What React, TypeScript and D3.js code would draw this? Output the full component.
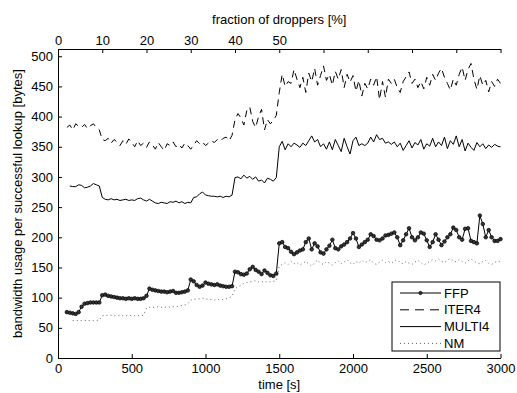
import { useEffect, useRef } from "react";
import * as d3 from "d3";

// sample times [s], every 20 s from 60 to 3000
const times = d3.range(60, 3001, 20);

const ffp = [
  76, 75, 74, 73, 76, 85, 90, 91, 92, 92,
  92, 92, 104, 105, 103, 102, 101, 100, 99, 99,
  98, 99, 98, 99, 98, 98, 99, 103, 115, 113,
  112, 111, 110, 110, 109, 110, 111, 108, 108, 109,
  110, 112, 130, 127, 121, 118, 120, 125, 123, 122,
  121, 122, 120, 119, 118, 118, 119, 143, 142, 139,
  138, 140, 147, 151, 146, 143, 139, 145, 141, 137,
  136, 140, 190, 192, 184, 182, 176, 172, 175, 178,
  180, 192, 198, 180, 190, 185, 175, 173, 180, 186,
  196, 182, 180, 185, 188, 192, 198, 207, 198, 184,
  188, 192, 196, 205, 202, 196, 195, 198, 203, 204,
  206, 208, 200, 187, 195, 205, 215, 200, 195, 200,
  208, 206, 195, 184, 192, 205, 196, 187, 193, 200,
  205, 216, 212, 200, 196, 214, 215, 194, 192, 190,
  236, 222, 200, 212, 200, 194, 194, 197,
];

const iter4 = [
  382, 386, 378, 388, 384, 382, 387, 380, 385, 388,
  382, 378, 362, 360, 364, 356, 362, 358, 352, 360,
  354, 363, 357, 350, 360, 352, 356, 349, 358, 353,
  346, 357, 350, 344, 355, 352, 358, 350, 354, 348,
  356, 352, 346, 353, 360, 355, 358, 352, 356, 360,
  357, 362, 359, 364, 366, 360, 369, 395, 405, 398,
  386, 410, 416, 392, 382, 400, 412, 378, 395, 388,
  394, 402, 440, 470, 450, 458, 455, 478, 462, 448,
  465, 440, 472, 458, 480, 452, 468, 484, 460, 470,
  452, 475, 462, 478, 448, 470, 457, 468, 442, 460,
  434, 455, 446, 462, 452, 466, 428, 458, 432, 462,
  455, 462, 448, 440, 458, 466, 474, 455, 462, 448,
  458, 446, 465, 452, 470, 460, 472, 480, 465, 455,
  444, 462, 452, 470, 482, 460, 478, 488, 462, 445,
  468, 452, 460, 441, 458, 450, 462, 455,
];

const multi4 = [
  null, 285, 284, 284, 287, 286, 282, 283, 285, 289,
  287, 285, 266, 263, 262, 264, 262, 263, 261, 262,
  263, 261, 262, 261, 264, 265, 262, 260, 263, 260,
  257, 256, 258, 257, 256, 259, 258, 260, 257, 259,
  256, 258, 257, 266, 267, 272, 275, 270, 269, 268,
  268, 267, 268, 266, 268, 267, 270, 299, 300, 297,
  303, 298, 301, 296, 300, 293, 295, 290, 298, 296,
  293, 299, 350, 359, 345, 355, 350, 356, 353, 349,
  356, 352, 360, 368, 358, 362, 350, 355, 346, 358,
  345, 362, 352, 342, 364, 350, 338, 360, 366, 352,
  355, 352, 356, 366, 358, 370, 362, 364, 356, 358,
  354, 358, 350, 356, 344, 352, 360, 348, 357, 353,
  362, 346, 355, 351, 364, 350, 358, 352, 366, 347,
  360, 354, 368, 350, 362, 343, 356, 349, 344, 357,
  350, 355, 347, 353, 349, 354, 351, 350,
];

const nm = [
  null, null, 62, 62, 62, 62, 62, 62, 62, 62,
  62, 63, 70, 70, 71, 71, 70, 70, 71, 70,
  70, 71, 70, 70, 70, 70, 71, 83, 84, 84,
  84, 85, 84, 84, 85, 84, 85, 85, 86, 87,
  88, 90, 96, 97, 98, 98, 99, 98, 97, 97,
  96, 97, 96, 97, 98, 100, 102, 115, 118, 120,
  124, 125, 126, 127, 128, 126, 127, 125, 127, 126,
  127, 128, 152, 155, 158, 155, 160, 156, 158, 154,
  157, 160, 156, 152, 158, 162, 157, 155, 160, 157,
  154, 158, 161, 156, 159, 163, 158, 155, 160, 157,
  162, 158, 160, 163, 157, 155, 159, 162, 158, 160,
  157, 161, 163, 158, 156, 160, 157, 155, 159, 162,
  158, 154, 157, 160, 163, 161, 164, 160, 158, 162,
  165, 161, 159, 163, 160, 157, 161, 164, 160, 158,
  156, 160, 162, 157, 155, 158, 161, 159,
];

const seriesNames = ["FFP", "ITER4", "MULTI4", "NM"];
const timeTicks = [0, 500, 1000, 1500, 2000, 2500, 3000];
const valueTicks = [0, 50, 100, 150, 200, 250, 300, 350, 400, 450, 500];
const fractionTicks = [0, 10, 20, 30, 40, 50, 60, 70, 80, 90, 100];
const fractionLabelled = [0, 10, 20, 30, 40, 50];

const FONT = "'Liberation Sans', Arial, Helvetica, sans-serif";

const styles: Record<string, { dash: string | null; color: string; width: number }> = {
  FFP: { dash: null, color: "#000", width: 1 },
  ITER4: { dash: "7,5", color: "#000", width: 1 },
  MULTI4: { dash: null, color: "#000", width: 1 },
  NM: { dash: "1,3", color: "#555", width: 0.9 },
};

const App = () => {
  const ref = useRef<SVGSVGElement>(null);

  useEffect(() => {
    const width = 517;
    const height = 393;
    const margin = { top: 49, right: 16.5, bottom: 35, left: 58 };

    const svg = d3.select(ref.current);
    svg.selectAll("*").remove();

    const x = d3
      .scaleLinear()
      .domain([0, 3000])
      .range([margin.left, width - margin.right]);
    const xTop = d3
      .scaleLinear()
      .domain([0, 100])
      .range([margin.left, width - margin.right]);
    const y = d3
      .scaleLinear()
      .domain([0, 512])
      .range([height - margin.bottom, margin.top]);

    const fontAxis = (g: d3.Selection<SVGGElement, unknown, null, undefined>) =>
      g.attr("font-size", 13).attr("font-family", FONT);

    svg
      .append("g")
      .attr("transform", `translate(0,${height - margin.bottom})`)
      .call(
        d3
          .axisBottom(x)
          .tickValues(timeTicks)
          .tickFormat((d) => String(d))
          .tickSizeInner(-4)
          .tickSizeOuter(0)
          .tickPadding(6),
      )
      .call(fontAxis);

    svg
      .append("g")
      .attr("transform", `translate(0,${margin.top})`)
      .call(
        d3
          .axisTop(xTop)
          .tickValues(fractionTicks)
          .tickFormat((d) => (fractionLabelled.includes(+d) ? String(d) : ""))
          .tickSizeInner(-4)
          .tickSizeOuter(0)
          .tickPadding(4),
      )
      .call(fontAxis);

    svg
      .append("g")
      .attr("transform", `translate(${margin.left},0)`)
      .call(
        d3
          .axisLeft(y)
          .tickValues(valueTicks)
          .tickFormat((d) => String(d))
          .tickSizeInner(-4)
          .tickSizeOuter(0)
          .tickPadding(5),
      )
      .call(fontAxis);

    // axis titles
    const midX = (margin.left + width - margin.right) / 2;
    svg
      .append("text")
      .attr("x", midX)
      .attr("y", 24)
      .attr("text-anchor", "middle")
      .attr("font-family", FONT)
      .attr("font-size", 13)
      .text("fraction of droppers [%]");
    svg
      .append("text")
      .attr("x", midX)
      .attr("y", 389)
      .attr("text-anchor", "middle")
      .attr("font-family", FONT)
      .attr("font-size", 13)
      .text("time [s]");
    svg
      .append("text")
      .attr(
        "transform",
        `translate(22,${(margin.top + height - margin.bottom) / 2}) rotate(-90)`,
      )
      .attr("text-anchor", "middle")
      .attr("font-family", FONT)
      .attr("font-size", 13)
      .text("bandwidth usage per successful lookup [bytes]");

    const data: Record<string, (number | null)[]> = {
      FFP: ffp,
      ITER4: iter4,
      MULTI4: multi4,
      NM: nm,
    };

    const line = d3
      .line<number>()
      .defined((_, i, arr) => arr[i] != null)
      .x((_, i) => x(times[i]))
      .y((d) => y(d));

    for (const name of ["NM", "FFP", "MULTI4", "ITER4"]) {
      const st = styles[name];
      svg
        .append("path")
        .datum(data[name] as number[])
        .attr("fill", "none")
        .attr("stroke", st.color)
        .attr("stroke-width", st.width)
        .attr("stroke-dasharray", st.dash)
        .attr("d", line);
    }

    svg
      .append("g")
      .selectAll("circle")
      .data(ffp)
      .enter()
      .append("circle")
      .attr("cx", (_, i) => x(times[i]))
      .attr("cy", (d) => y(d))
      .attr("r", 1.8)
      .attr("fill", "#333")
      .attr("stroke", "#000")
      .attr("stroke-width", 0.7);

    // legend
    const legend = svg.append("g").attr("transform", "translate(392,282)");
    legend
      .append("rect")
      .attr("width", 108)
      .attr("height", 69)
      .attr("fill", "#fff")
      .attr("stroke", "#000")
      .attr("stroke-width", 1);
    seriesNames.forEach((name, i) => {
      const st = styles[name];
      const ly = 11 + i * 16.8;
      legend
        .append("line")
        .attr("x1", 8)
        .attr("x2", 49)
        .attr("y1", ly)
        .attr("y2", ly)
        .attr("stroke", st.color)
        .attr("stroke-width", st.width)
        .attr("stroke-dasharray", st.dash === "7,5" ? "9,6" : st.dash);
      if (name === "FFP") {
        legend
          .append("circle")
          .attr("cx", 28.5)
          .attr("cy", ly)
          .attr("r", 1.7)
          .attr("fill", "#333")
          .attr("stroke", "#000")
          .attr("stroke-width", 0.6);
      }
      legend
        .append("text")
        .attr("x", 52)
        .attr("y", ly + 4.6)
        .attr("font-family", FONT)
        .attr("font-size", 13)
        .text(name);
    });
  }, []);

  return (
    <svg
      ref={ref}
      width={517}
      height={393}
      style={{ position: "absolute", left: 0, top: 0, background: "#fff" }}
    />
  );
};

export default App;
